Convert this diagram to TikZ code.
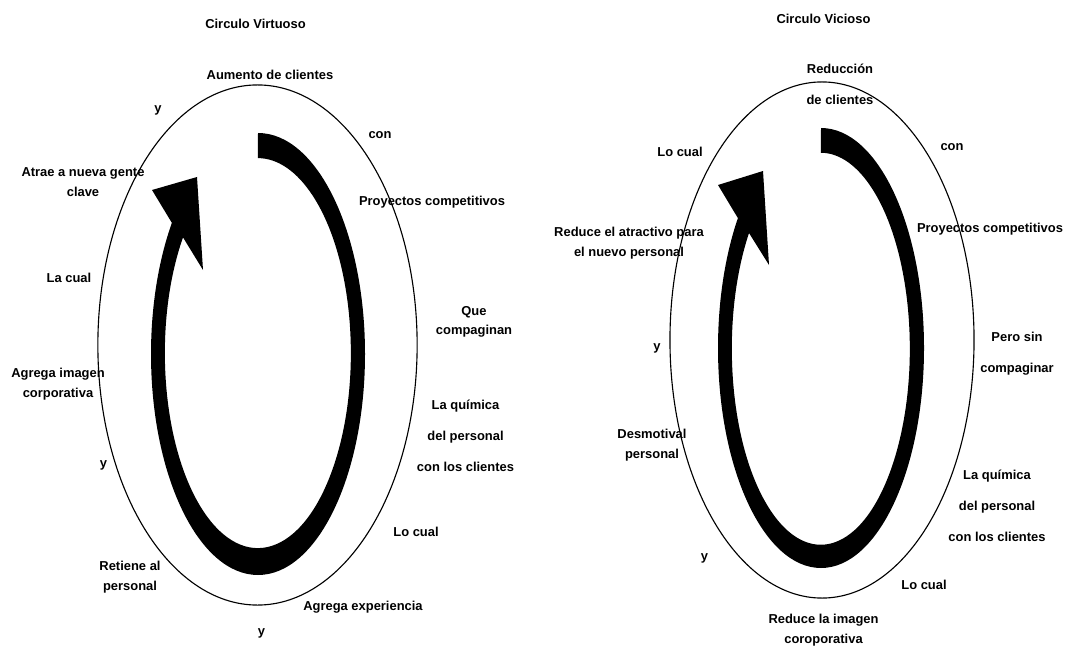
\documentclass[tikz,border=0pt]{standalone}
\usepackage{fontspec}
\setmainfont{Liberation Sans}
\usetikzlibrary{shapes.geometric}

\begin{document}
\begin{tikzpicture}[x=0.025cm, y=0.025cm,
        lbl/.style={font=\fontsize{9.2}{14}\selectfont\bfseries, align=center, inner sep=0pt},
        ring/.style={ellipse, draw, line width=0.8pt, inner sep=0pt},
        band/.style={fill=black}
      ]
        \useasboundingbox (0,0) rectangle (1082,-649);
        % Circulo virtuoso
        \node[ring, minimum width=7.98cm, minimum height=13cm] (vring) at (257.5,-345) {};
        \fill[band] (258,-133) arc[start angle=90, end angle=-216.4, x radius=107, y radius=221]
          -- (152,-190) -- (197,-177) -- (203,-270) -- (183,-237.4)
          arc[start angle=-216.4, end angle=90, x radius=93, y radius=195] -- cycle;
        \node[lbl] (vtitle) at (255.5,-24) {Circulo Virtuoso};
        \node[lbl] (vtop) at (270,-75) {Aumento de clientes};
        \node[lbl] (vy1) at (158,-110) {y};
        \node[lbl] (vcon) at (380,-135) {con};
        \node[lbl] (vatrae) at (83,-182) {Atrae a nueva gente\\clave};
        \node[lbl] (vproy) at (432,-202) {Proyectos competitivos};
        \node[lbl] (vlacual) at (69,-278) {La cual};
        \node[lbl] (vque) at (474,-322) {Que\\compaginan};
        \node[lbl] (vimagen) at (58,-384) {Agrega imagen\\corporativa};
        \node[lbl] (vquim) at (465.5,-436) {La química\\[8pt]del personal\\[8pt]con los clientes};
        \node[lbl] (vy2) at (103.5,-465) {y};
        \node[lbl] (vlocual) at (416,-532) {Lo cual};
        \node[lbl] (vretiene) at (130,-577) {Retiene al\\personal};
        \node[lbl] (vexp) at (363,-607) {Agrega experiencia};
        \node[lbl] (vy3) at (261.5,-633) {y};
        % Circulo vicioso
        \node[ring, minimum width=7.6cm, minimum height=12.9cm] (cring) at (822,-340) {};
        \fill[band] (821,-128) arc[start angle=90, end angle=-216.2, x radius=103, y radius=220]
          -- (718,-185) -- (763,-171) -- (769,-265) -- (749,-233)
          arc[start angle=-216.2, end angle=90, x radius=89, y radius=196] -- cycle;
        \node[lbl] (ctitle) at (823.5,-19) {Circulo Vicioso};
        \node[lbl] (ctop) at (840,-84.5) {Reducción\\[8pt]de clientes};
        \node[lbl] (ccon) at (952,-147) {con};
        \node[lbl] (clocual1) at (680,-152) {Lo cual};
        \node[lbl] (catract) at (629,-243) {Reduce el atractivo para\\el nuevo personal};
        \node[lbl] (cproy) at (990,-229) {Proyectos competitivos};
        \node[lbl] (cpero) at (1017,-354) {Pero sin\\[8pt]compaginar};
        \node[lbl] (cy1) at (657,-348) {y};
        \node[lbl] (cdesmot) at (652,-445) {Desmotival\\personal};
        \node[lbl] (cquim) at (997,-506) {La química\\[8pt]del personal\\[8pt]con los clientes};
        \node[lbl] (cy2) at (704.5,-558) {y};
        \node[lbl] (clocual2) at (924,-585) {Lo cual};
        \node[lbl] (cimagen) at (823.5,-630) {Reduce la imagen\\coroporativa};
      \end{tikzpicture}
\end{document}
